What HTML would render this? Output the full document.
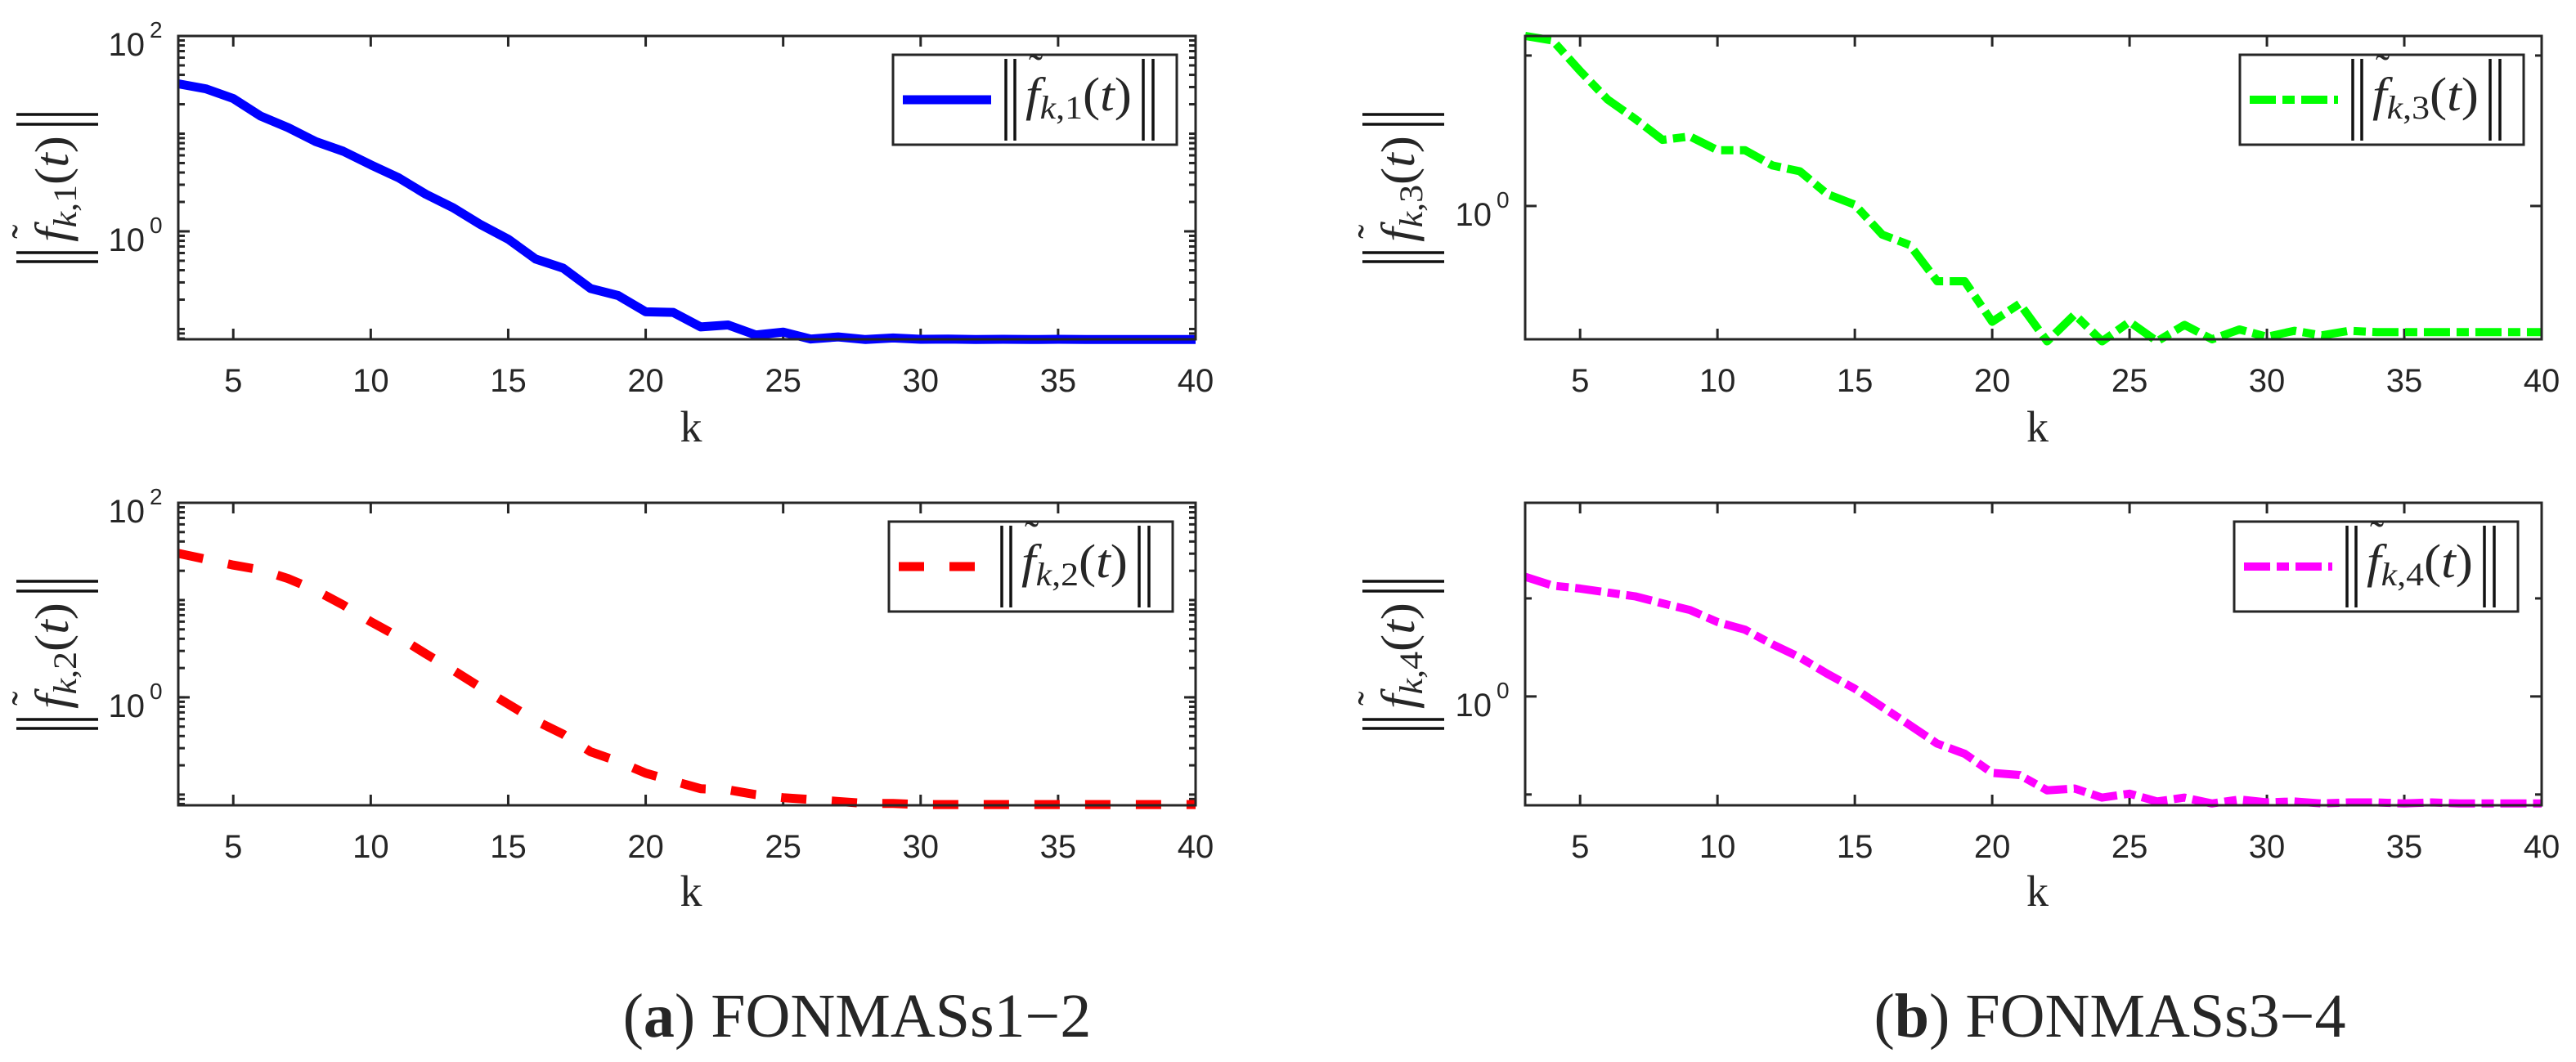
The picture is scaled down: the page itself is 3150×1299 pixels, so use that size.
<!DOCTYPE html>
<html><head><meta charset="utf-8">
<style>
html,body{margin:0;padding:0;background:#fff;}
svg{display:block;}
text{fill:#262626;}
</style></head>
<body>
<svg id="fig" xmlns="http://www.w3.org/2000/svg" width="3150" height="1299" viewBox="0 0 3150 1299">
<rect x="0" y="0" width="3150" height="1299" fill="#fff"/>
<g id="layer"></g>
<text x="1048" y="1268" text-anchor="middle" font-family="'Liberation Serif', serif" font-size="76">(<tspan font-weight="bold">a</tspan>) FONMASs1−2</text>
<text x="2580" y="1268" text-anchor="middle" font-family="'Liberation Serif', serif" font-size="76">(<tspan font-weight="bold">b</tspan>) FONMASs3−4</text>
</svg>
<script>
const kValues = [3,4,5,6,7,8,9,10,11,12,13,14,15,16,17,18,19,20,21,22,23,24,25,26,27,28,29,30,31,32,33,34,35,36,37,38,39,40];
const xTickValues = [5,10,15,20,25,30,35,40];
const f1Values = [32.4,28.8,22.9,15.1,11.5,8.3,6.6,4.8,3.55,2.4,1.74,1.17,0.83,0.52,0.42,0.26,0.22,0.15,0.148,0.105,0.11,0.087,0.093,0.079,0.083,0.078,0.081,0.0785,0.079,0.078,0.0785,0.078,0.0785,0.078,0.078,0.078,0.078,0.078];
const f2Values = [30.2,26.3,22.9,20.4,16.6,12.6,8.9,6.0,4.2,2.8,1.9,1.26,0.85,0.575,0.417,0.275,0.219,0.166,0.138,0.115,0.112,0.100,0.093,0.089,0.085,0.081,0.081,0.079,0.079,0.079,0.079,0.079,0.079,0.079,0.079,0.079,0.079,0.079];
const f3Values = [13.5,12.6,7.9,5.1,3.8,2.75,2.9,2.35,2.35,1.86,1.70,1.20,1.02,0.645,0.55,0.316,0.316,0.17,0.224,0.126,0.19,0.126,0.17,0.126,0.162,0.13,0.151,0.135,0.148,0.138,0.148,0.145,0.145,0.145,0.145,0.145,0.145,0.145];
const f4Values = [16.6,13.5,12.6,11.5,10.5,8.9,7.6,5.75,4.8,3.4,2.5,1.7,1.2,0.78,0.51,0.33,0.26,0.166,0.158,0.11,0.115,0.093,0.102,0.085,0.093,0.081,0.089,0.083,0.085,0.081,0.083,0.083,0.081,0.083,0.081,0.081,0.081,0.081];

const NS = "http://www.w3.org/2000/svg";
const layer = document.getElementById('layer');
function mk(tag, attrs, parent){
  const e = document.createElementNS(NS, tag);
  for (const a in attrs) e.setAttribute(a, attrs[a]);
  (parent||layer).appendChild(e);
  return e;
}
const AX = "#262626";

function mathLabel(parent, idx){
  [-90,-79,78,90].forEach(bx=>{
    mk('line',{x1:bx,y1:-50,x2:bx,y2:50,stroke:"#111","stroke-width":3.5},parent);
  });
  const til = mk('text',{x:-62,y:-20,"font-family":"'Liberation Serif', serif","font-size":52},parent);
  til.textContent = "˜";
  const t = mk('text',{x:-66,y:13,"font-family":"'Liberation Serif', serif","font-size":58,textLength:130,lengthAdjust:"spacingAndGlyphs"},parent);
  const s1 = mk('tspan',{"font-style":"italic"},t); s1.textContent="f";
  const s2 = mk('tspan',{"font-style":"italic","font-size":40,dy:10},t); s2.textContent="k";
  const s3 = mk('tspan',{"font-size":40},t); s3.textContent=","+idx;
  const s4 = mk('tspan',{dy:-10},t); s4.textContent="(";
  const s5 = mk('tspan',{"font-style":"italic"},t); s5.textContent="t";
  const s6 = mk('tspan',{},t); s6.textContent=")";
}

function panel(cfg){
  const {x0,x1,y0,y1,logMin,logMax,values,color,dash,width,idx,majors,minors,labels,legX,legY,ylabX,ylabY,kLabY} = cfg;
  const g = mk('g',{});
  
  
  const X = k => x0 + (k - kValues[0])/(kValues[kValues.length-1]-kValues[0])*(x1-x0);
  const Y = v => y1 - (Math.log10(v)-logMin)/(logMax-logMin)*(y1-y0);
  const YL = l => y1 - (l-logMin)/(logMax-logMin)*(y1-y0);
  xTickValues.forEach(k=>{
    const x = X(k);
    mk('line',{x1:x,y1:y1,x2:x,y2:y1-13,stroke:AX,"stroke-width":3},g);
    mk('line',{x1:x,y1:y0,x2:x,y2:y0+13,stroke:AX,"stroke-width":3},g);
    const t = mk('text',{x:x,y:y1+64,"text-anchor":"middle","font-family":"'Liberation Sans', sans-serif","font-size":40},g);
    
    
    t.textContent = k;
  });
  minors.forEach(l=>{
    if (l < logMin-1e-6 || l > logMax+1e-6) return;
    const y = YL(l);
    mk('line',{x1:x0,y1:y,x2:x0+8,y2:y,stroke:AX,"stroke-width":3},g);
    mk('line',{x1:x1,y1:y,x2:x1-8,y2:y,stroke:AX,"stroke-width":3},g);
  });
  majors.forEach(l=>{
    const y = YL(l);
    mk('line',{x1:x0,y1:y,x2:x0+14,y2:y,stroke:AX,"stroke-width":3},g);
    mk('line',{x1:x1,y1:y,x2:x1-14,y2:y,stroke:AX,"stroke-width":3},g);
  });
  labels.forEach(l=>{
    const y = YL(l);
    const t = mk('text',{x:x0-41,y:y+24,"text-anchor":"end","font-family":"'Liberation Sans', sans-serif","font-size":40},g);
    
    
    t.textContent = "10";
    const s = mk('text',{x:x0-35,y:y+2,"font-family":"'Liberation Sans', sans-serif","font-size":28},g);
    s.textContent = String(l);
  });
  const pts = kValues.map((k,i)=>X(k).toFixed(1)+","+Y(values[i]).toFixed(1)).join(" ");
  const pl = mk('polyline',{points:pts,fill:"none",stroke:color,"stroke-width":width,"stroke-linejoin":"round"},g);
  if (dash) pl.setAttribute('stroke-dasharray', dash);
  
  
  const box = mk('rect',{x:x0,y:y0,width:x1-x0,height:y1-y0,fill:"none",stroke:AX,"stroke-width":3},g);
  
  
  const lg = mk('g',{},g);
  
  
  mk('rect',{x:legX,y:legY,width:347,height:110,fill:"#fff",stroke:AX,"stroke-width":3},lg);
  const ls = mk('line',{x1:legX+12,y1:legY+55,x2:legX+120,y2:legY+55,stroke:color,"stroke-width":width},lg);
  if (dash) ls.setAttribute('stroke-dasharray', dash);
  const lm = mk('g',{transform:`translate(${legX+228},${legY+55})`},lg);
  mathLabel(lm, idx);
  const yl = mk('g',{transform:`translate(${ylabX},${ylabY}) rotate(-90)`},g);
  
  
  mathLabel(yl, idx);
  const kl = mk('text',{x:(x0+x1)/2+5,y:kLabY,"text-anchor":"middle","font-family":"'Liberation Serif', serif","font-size":54},g);
  
  
  kl.textContent = "k";
}

const leftMinors = [];
for (let d=-2; d<2; d++) for (let m=1;m<10;m++){ leftMinors.push(d+Math.log10(m)); }

panel({x0:218,x1:1462,y0:44,y1:415,logMin:-1.105,logMax:2,values:f1Values,color:"#0000ff",dash:null,width:11,idx:1,
  majors:[0,2],minors:leftMinors,labels:[0,2],legX:1092,legY:67,ylabX:70,ylabY:230,kLabY:540});
panel({x0:218,x1:1462,y0:615,y1:985,logMin:-1.11,logMax:2,values:f2Values,color:"#ff0000",dash:"31 31",width:11,idx:2,
  majors:[0,2],minors:leftMinors,labels:[0,2],legX:1087,legY:638,ylabX:70,ylabY:801,kLabY:1108});
panel({x0:1865,x1:3108,y0:44,y1:415,logMin:-0.886,logMax:1.13,values:f3Values,color:"#00ff00",dash:"32 8 15 8",width:10,idx:3,
  majors:[0],minors:[1],labels:[0],legX:2739,legY:67,ylabX:1716,ylabY:230,kLabY:540});
panel({x0:1865,x1:3108,y0:615,y1:985,logMin:-1.11,logMax:1.975,values:f4Values,color:"#ff00ff",dash:"32 8 15 8",width:10,idx:4,
  majors:[0],minors:[1,-1],labels:[0],legX:2732,legY:638,ylabX:1716,ylabY:801,kLabY:1108});
</script>
</body></html>
